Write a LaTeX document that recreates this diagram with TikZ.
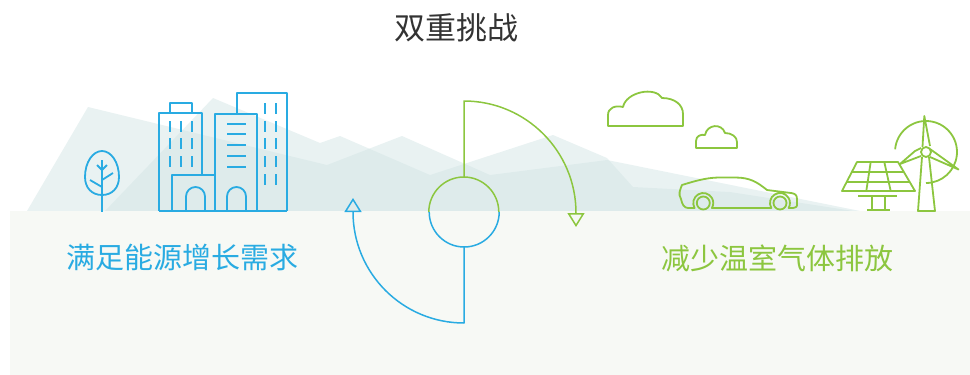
\documentclass[tikz,border=0pt]{standalone}
\usepackage{fontspec}
\newfontfamily\cjk{Noto Sans CJK SC}
\usetikzlibrary{arrows.meta}
\definecolor{skyblue}{HTML}{29ABE2}
\definecolor{leafgreen}{HTML}{8CC63F}
\definecolor{hill}{RGB}{211,229,229}
\definecolor{groundc}{HTML}{F7F9F5}
\definecolor{titlegray}{HTML}{333333}
\begin{document}
\begin{tikzpicture}[x=1pt,y=-1pt,
  bline/.style={draw=skyblue,line width=1.8pt,line join=round},
  gline/.style={draw=leafgreen,line width=1.8pt,line join=round},
  thin/.style={line width=1.5pt},
  hillshape/.style={fill=hill,fill opacity=0.5},
  opentip/.style={-{Triangle[open,length=14pt,width=17pt]}},
  headtext/.style={text=titlegray,font=\cjk\fontsize{31}{31}\selectfont,inner sep=0pt},
  sidetext/.style={font=\cjk\fontsize{29}{29}\selectfont,inner sep=0pt}]
\useasboundingbox (0,0) rectangle (970,375);

% distant hills
\fill[hillshape] (27,211) -- (88,107) -- (327,165) -- (402,136) -- (490,175)
  -- (607,160) -- (865,212) -- cycle;
\fill[hillshape] (105,211) -- (213,98) -- (320,143) -- (340,136) -- (430,175)
  -- (467,163) -- (553,135) -- (607,158) -- (633,187) -- (730,192) -- (860,212) -- cycle;

% ground
\fill[groundc] (10,211) rectangle (970,375);

% title and side labels
\node[headtext] (title) at (456,28) {双重挑战};
\node[sidetext,text=skyblue] (demand) at (182.5,257) {满足能源增长需求};
\node[sidetext,text=leafgreen] (emission) at (777,258) {减少温室气体排放};

% tree
\draw[bline] (102,195) .. controls (92,195) and (85,188) .. (85,177)
  .. controls (85,162) and (93,151) .. (102,151)
  .. controls (111,151) and (119,162) .. (119,177)
  .. controls (119,188) and (112,195) .. (102,195);
\draw[bline] (102,160) -- (102,212);
\draw[bline] (97,165) -- (102,170) -- (107,165);
\draw[bline] (102,180) -- (113,173);
\draw[bline] (102,187) -- (90,180);

% buildings
\draw[bline] (159,211) -- (287,211);
\draw[bline] (202,175) -- (202,113) -- (159,113) -- (159,211);
\draw[bline] (170,113) -- (170,103) -- (192,103) -- (192,113);
\draw[bline] (172,211) -- (172,175) -- (215,175);
\draw[bline] (215,114) rectangle (257,211);
\draw[bline] (237,114) -- (237,93) -- (287,93) -- (287,211);
\draw[bline] (186,211) -- (186,196.5) arc[start angle=180,end angle=360,radius=9.5] -- (205,211);
\draw[bline] (227,211) -- (227,196.5) arc[start angle=180,end angle=360,radius=9.5] -- (246,211);
\foreach \wx in {170,181,192}
  \foreach \wy in {121,138,156}
    \draw[bline] (\wx,\wy) -- (\wx,\wy+11);
\foreach \wy in {124,134,145,156,167}
  \draw[bline] (227,\wy) -- (246,\wy);
\foreach \wx in {265,276}
  \foreach \wy in {103,121,138,156,174}
    \draw[bline] (\wx,\wy) -- (\wx,\wy+11);

% clouds
\draw[gline] (608,126) -- (608,115) .. controls (608,108) and (615,105) .. (623,107)
  .. controls (626,92) and (655,86) .. (662,98)
  .. controls (675,98) and (683,105) .. (683,114) -- (683,126) -- cycle;
\draw[gline] (696,148) -- (696,141) .. controls (696,136) and (701,134) .. (705,135)
  .. controls (707,124) and (722,123) .. (725,133)
  .. controls (732,133) and (737,137) .. (737,142) -- (737,148) -- cycle;

% car
\draw[gline] (688,208) -- (694.6,208) arc[start angle=150,end angle=390,radius=10]
  -- (771.3,208) arc[start angle=150,end angle=390,radius=10]
  -- (793,208) .. controls (797,207) .. (797,203) -- (797,199)
  .. controls (797,195) and (795,193.5) .. (791,193) -- (767,190)
  .. controls (757,182) and (750,177.5) .. (735,177.5) -- (718,177.5)
  .. controls (705,178) and (695,181) .. (682,185)
  .. controls (680,190) and (678,194) .. (681,199)
  .. controls (682,204) and (684,208) .. (688,208);
\draw[gline] (703.3,203) circle[radius=6.5];
\draw[gline] (780,203) circle[radius=6.5];

% solar panel
\draw[gline] (857,162) -- (898,162) -- (915,191) -- (842,191) -- cycle;
\draw[gline] (851.8,172) -- (903.9,172);
\draw[gline] (846.7,182) -- (909.7,182);
\draw[gline] (870.7,162) -- (866.3,191);
\draw[gline] (884.3,162) -- (890.7,191);
\draw[gline] (858,196) -- (897,196);
\draw[gline] (872,196) -- (872,210);
\draw[gline] (885,196) -- (885,210);
\draw[gline] (867,210) -- (890,210);

% wind turbine
\draw[gline] (922,157) -- (918,211) -- (935,211) -- (929,157);
\draw[gline] (922.5,147) -- (924.3,116) -- (930,146);
\draw[gline] (921,148) -- (915,151) -- (900,164) -- (921,156);
\draw[gline] (930,149) -- (958.5,169.5) -- (930,157);
\draw[gline] (926,152) circle[radius=5];
\draw[gline] (926,152) ++(185:31) arc[start angle=185,end angle=450,radius=31];

% central cycle
\node[circle,minimum size=70pt,inner sep=0pt] (core) at (464,212) {};
\coordinate (gtop) at (464,101);
\coordinate (bbot) at (464,323);
\draw[gline,thin] (core.west) arc[start angle=180,end angle=360,radius=35];
\draw[bline,thin] (core.east) arc[start angle=0,end angle=180,radius=35];
\draw[gline,thin,opentip] (core.north) -- (gtop) arc[start angle=270,end angle=360,radius=112] -- ++(0,14);
\draw[bline,thin,opentip] (core.south) -- (bbot) arc[start angle=90,end angle=180,radius=111] -- ++(0,-14);
\end{tikzpicture}
\end{document}
